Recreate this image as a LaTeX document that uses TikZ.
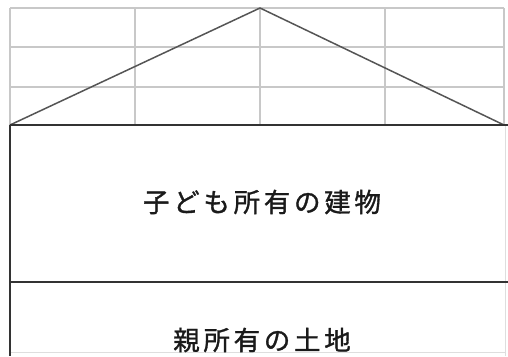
\documentclass[tikz,border=0pt]{standalone}
\usepackage{fontspec}
\newfontfamily\jpfont[LetterSpace=14,FakeBold=1.2]{Noto Sans CJK JP}
\definecolor{gridgray}{HTML}{C8C8C8}
\definecolor{roofgray}{HTML}{555555}
\definecolor{thickgray}{HTML}{333333}
\definecolor{textdark}{HTML}{1A1A1A}
\tikzset{
  gridline/.style={draw=gridgray, line width=1.5pt},
  faintline/.style={draw=gridgray!60, line width=1pt},
  roofline/.style={draw=roofgray, line width=1.5pt},
  thickline/.style={draw=thickgray, line width=2pt},
  label/.style={font=\jpfont\fontsize{26.5}{30}\selectfont, text=textdark, inner sep=0pt}
}
\begin{document}
\begin{tikzpicture}[x=1pt,y=-1pt]
\useasboundingbox (0,0) rectangle (508,356);
\fill[white] (0,0) rectangle (508,356);
% grid
\foreach \y in {8,47,87} \draw[gridline] (10,\y) -- (504,\y);
\foreach \x in {10,135,260,385,504} \draw[gridline] (\x,8) -- (\x,125);
\draw[faintline] (505,125) -- (505,356);
\draw[faintline] (10,352) -- (505,352);
% roof
\coordinate (apex) at (260,8);
\coordinate (eaveL) at (10,125);
\coordinate (eaveR) at (504,125);
\draw[roofline] (eaveL) -- (apex) -- (eaveR);
% building / land
\coordinate (wallTop) at (10,125);
\coordinate (wallBot) at (10,356);
\coordinate (floorL) at (10,282);
\coordinate (floorR) at (508,282);
\draw[thickline] (eaveL) -- (508,125);
\draw[thickline] (wallTop) -- (wallBot);
\draw[thickline] (floorL) -- (floorR);
% texts
\node[label] (bldg) at (262,202) {子ども所有の建物};
\node[label] (land) at (262,340) {親所有の土地};
\end{tikzpicture}
\end{document}
